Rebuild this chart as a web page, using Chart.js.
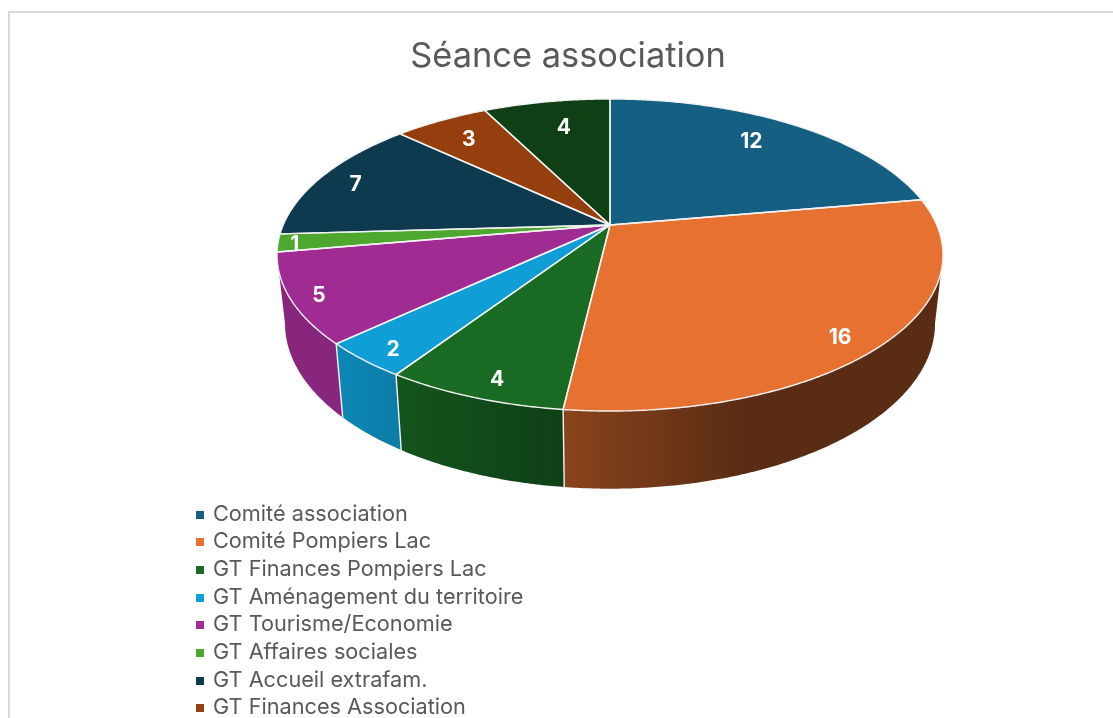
<!DOCTYPE html>
<html lang="fr">
<head>
<meta charset="utf-8">
<title>Séance association</title>
<script src="https://cdn.jsdelivr.net/npm/chart.js@4"></script>
<style>
    html, body { margin: 0; height: 718px; overflow: hidden; background: #fff; }
    #frame { position: absolute; left: 8px; top: 11px; right: 0; bottom: 0; border-left: 2px solid #d9d9d9; border-top: 2px solid #d9d9d9; }
    #seanceChart { position: absolute; left: 0; top: 0; }
    #legend { position: absolute; left: 196px; top: 499.5px; margin: 0; padding: 0; list-style: none; font: 21.7px Inter, sans-serif; color: #595959; }
    #legend li { height: 27.7px; line-height: 27.7px; white-space: nowrap; }
    #legend i { display: inline-block; width: 8px; height: 8px; margin-right: 9px; vertical-align: 2px; }
</style>
</head>
<body>
<div id="frame"></div>
<canvas id="seanceChart" width="1113" height="718"></canvas>
<ul id="legend"></ul>
<script>
const chartTitle = 'Séance association';
// the last name falls below the photographed area, it can't be read
const categories = ['Comité association', 'Comité Pompiers Lac', 'GT Finances Pompiers Lac', 'GT Aménagement du territoire',
    'GT Tourisme/Economie', 'GT Affaires sociales', 'GT Accueil extrafam.', 'GT Finances Association', 'Autres'];
const seances = [12, 16, 4, 2, 5, 1, 7, 3, 4];
const colors = ['#156082', '#E77130', '#196B24', '#0F9ED5', '#A02B93', '#4EA72E', '#0E3A4F', '#963F0E', '#0F3F14'];

// perspective of the disc: unit circle -> screen
const CX = 610, CY = 225, SCALE_X = 326.8, SCALE_Y = 107, PERSP = -0.1923;
const project = (x, y) => {
    const w = 1 + PERSP * y;
    return { x: CX + SCALE_X * x / w, y: (SCALE_Y * y + CY) / w };
};
const lower = p => ({ x: CX + (p.x - CX) * 0.976, y: p.y * 1.06 + 53 });
// the side wall is only seen between the two tangent points of the rim
const WALL_FROM = Math.asin(-PERSP), WALL_TO = Math.PI - WALL_FROM;

function shade(hex, f) {
    const [r, g, b] = [1, 3, 5].map(i => parseInt(hex.substr(i, 2), 16));
    return `rgb(${Math.round(r * f)},${Math.round(g * f)},${Math.round(b * f)})`;
}

function rimPoints(start, end) {
    const steps = Math.max(2, Math.ceil((end - start) / 0.008));
    const pts = [];
    for (let i = 0; i <= steps; i++) {
        const a = start + (end - start) * i / steps;
        pts.push(project(Math.cos(a), Math.sin(a)));
    }
    return pts;
}

const pie3d = {
    id: 'pie3d',
    beforeDatasetDraw(chart) {
        const ctx = chart.ctx;
        const arcs = chart.getDatasetMeta(0).data;
        ctx.save();

        // walls, darker from left to right
        arcs.forEach((arc, i) => {
            const start = Math.max(arc.startAngle, WALL_FROM);
            const end = Math.min(arc.endAngle, WALL_TO);
            if (start >= end) return;
            const pts = rimPoints(start, end);
            const grad = ctx.createLinearGradient(345, 0, 742, 0);
            grad.addColorStop(0, shade(colors[i], 0.85));
            grad.addColorStop(1, shade(colors[i], 0.39));
            ctx.beginPath();
            pts.forEach((p, k) => k ? ctx.lineTo(p.x, p.y) : ctx.moveTo(p.x, p.y));
            pts.slice().reverse().forEach(p => {
                const q = lower(p);
                ctx.lineTo(q.x, q.y);
            });
            ctx.closePath();
            ctx.fillStyle = grad;
            ctx.fill();
        });

        // white edges between walls
        ctx.strokeStyle = '#f2f2f2';
        ctx.lineWidth = 1.4;
        arcs.forEach(arc => {
            if (Math.sin(arc.endAngle) < 0.3) return;
            const top = project(Math.cos(arc.endAngle), Math.sin(arc.endAngle));
            const bottom = lower(top);
            ctx.beginPath();
            ctx.moveTo(top.x, top.y);
            ctx.lineTo(bottom.x, bottom.y);
            ctx.stroke();
        });

        // top faces
        const apex = project(0, 0);
        arcs.forEach((arc, i) => {
            ctx.beginPath();
            ctx.moveTo(apex.x, apex.y);
            rimPoints(arc.startAngle, arc.endAngle).forEach(p => ctx.lineTo(p.x, p.y));
            ctx.closePath();
            ctx.fillStyle = colors[i];
            ctx.fill();
        });
        ctx.lineJoin = 'round';
        arcs.forEach(arc => {
            ctx.beginPath();
            ctx.moveTo(apex.x, apex.y);
            rimPoints(arc.startAngle, arc.endAngle).forEach(p => ctx.lineTo(p.x, p.y));
            ctx.closePath();
            ctx.stroke();
        });

        // value labels, small nudges in px for Excel's own placement
        const nudgeX = [-8, -7, 10, 8, 1, -15, 0, 2, 6];
        const nudgeY = [-1, 10, 0, 1, 3, 4, 2, 3, 4];
        ctx.fillStyle = '#fff';
        ctx.font = "bold 21px Inter, sans-serif";
        ctx.textAlign = 'center';
        ctx.textBaseline = 'middle';
        arcs.forEach((arc, i) => {
            const mid = (arc.startAngle + arc.endAngle) / 2;
            const x = Math.cos(mid), y = Math.sin(mid);
            const r = 0.84 + 0.06 * y + 0.06 * Math.max(0, -x);
            const p = project(r * x, r * y);
            ctx.fillText(String(seances[i]), p.x + nudgeX[i], p.y + nudgeY[i]);
        });

        ctx.restore();
        return false;
    }
};

document.addEventListener('DOMContentLoaded', () => {
    const legend = document.getElementById('legend');
    categories.forEach((name, i) => {
        const li = document.createElement('li');
        const box = document.createElement('i');
        box.style.background = colors[i];
        li.appendChild(box);
        li.appendChild(document.createTextNode(name));
        legend.appendChild(li);
    });

    new Chart(document.getElementById('seanceChart'), {
        type: 'pie',
        data: {
            labels: categories,
            datasets: [{ data: seances, backgroundColor: colors }]
        },
        options: {
            responsive: false,
            animation: false,
            layout: { padding: { left: 23 } },
            plugins: {
                legend: { display: false },
                tooltip: { enabled: false },
                title: {
                    display: true,
                    text: chartTitle,
                    color: '#595959',
                    font: { family: 'Inter, sans-serif', size: 34.4, weight: 'normal' },
                    padding: { top: 36, bottom: 10 }
                }
            }
        },
        plugins: [pie3d]
    });
});
</script>
</body>
</html>
